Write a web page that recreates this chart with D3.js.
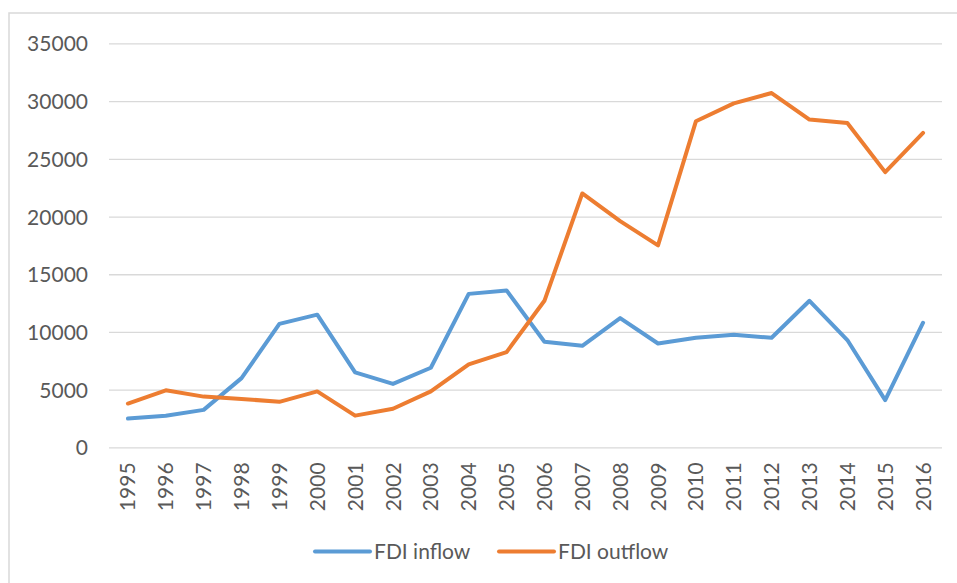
<!DOCTYPE html>
<html>
<head>
<meta charset="utf-8">
<script src="https://cdn.jsdelivr.net/npm/d3@7"></script>
<style>
  body { margin: 0; background: #fff; }
  svg text { font-family: Lato, "Open Sans", sans-serif; fill: #595959; }
</style>
</head>
<body>
<div id="chart"></div>
<script>
// Datos del grafico
var years = ["1995","1996","1997","1998","1999","2000","2001","2002","2003","2004","2005",
             "2006","2007","2008","2009","2010","2011","2012","2013","2014","2015","2016"];
var inflow = [2500, 2750, 3250, 6000, 10700, 11500, 6500, 5500, 6900, 13300, 13600,
              9150, 8800, 11200, 9000, 9500, 9750, 9500, 12700, 9300, 4100, 10800];
var outflow = [3800, 4950, 4400, 4200, 3950, 4850, 2750, 3350, 4850, 7200, 8250,
               12700, 22000, 19600, 17500, 28250, 29800, 30700, 28400, 28100, 23850, 27250];
var yTicks = [0, 5000, 10000, 15000, 20000, 25000, 30000, 35000];
var seriesNames = ["FDI inflow", "FDI outflow"];
var colores = ["#5b9bd5", "#ed7d31"];

var width = 957, height = 583;
var margin = {top: 43.4, right: 15, bottom: 135.6, left: 109};

var svg = d3.select("#chart")
  .append("svg")
  .attr("width", width)
  .attr("height", height);

// marco del grafico
svg.append("rect")
  .attr("x", 9).attr("y", 13)
  .attr("width", width + 20).attr("height", height + 20)
  .attr("fill", "none")
  .attr("stroke", "#d9d9d9")
  .attr("stroke-width", 1.5);

var x = d3.scaleBand()
  .domain(years)
  .range([margin.left, width - margin.right]);

var y = d3.scaleLinear()
  .domain([0, 35000])
  .range([height - margin.bottom, margin.top]);

// Rejilla y etiquetas eje y
var yAxis = svg.append("g")
  .attr("transform", "translate(" + margin.left + ",0)")
  .call(d3.axisLeft(y).tickValues(yTicks).tickSize(-(width - margin.left - margin.right)).tickPadding(21).tickFormat(d3.format("d")));
yAxis.select(".domain").remove();
yAxis.selectAll(".tick line").attr("stroke", "#d9d9d9").attr("stroke-width", 1.3);
yAxis.selectAll(".tick text")
  .style("font-size", "21px")
  .attr("dy", "0.36em")
  .style("font-family", "Lato, 'Open Sans', sans-serif")
  .attr("fill", "#595959");

// Eje x
var xAxis = svg.append("g")
  .attr("transform", "translate(0," + (height - margin.bottom) + ")")
  .call(d3.axisBottom(x).tickSize(0));
xAxis.select(".domain").remove();
xAxis.selectAll(".tick text")
  .style("font-size", "21px")
  .style("font-family", "Lato, 'Open Sans', sans-serif")
  .attr("fill", "#595959")
  .attr("text-anchor", "end")
  .attr("transform", "rotate(-90)")
  .attr("x", -15)
  .attr("y", 0)
  .attr("dy", "0.36em");

// Lineas
var line = d3.line()
  .x(function(d, i) { return x(years[i]) + x.bandwidth() / 2; })
  .y(function(d) { return y(d); });

[inflow, outflow].forEach(function(serie, k) {
  svg.append("path")
    .attr("d", line(serie))
    .attr("fill", "none")
    .attr("stroke", colores[k])
    .attr("stroke-width", 4)
    .attr("stroke-linejoin", "round")
    .attr("stroke-linecap", "round");
});

// Leyenda
var legendPos = [315, 499];
var legend = svg.append("g");
seriesNames.forEach(function(name, k) {
  legend.append("line")
    .attr("x1", legendPos[k]).attr("x2", legendPos[k] + 55)
    .attr("y1", 551.5).attr("y2", 551.5)
    .attr("stroke", colores[k])
    .attr("stroke-width", 4)
    .attr("stroke-linecap", "round");
  legend.append("text")
    .attr("x", legendPos[k] + 59)
    .attr("y", 558.5)
    .style("font-size", "21px")
    .text(name);
});
</script>
</body>
</html>
